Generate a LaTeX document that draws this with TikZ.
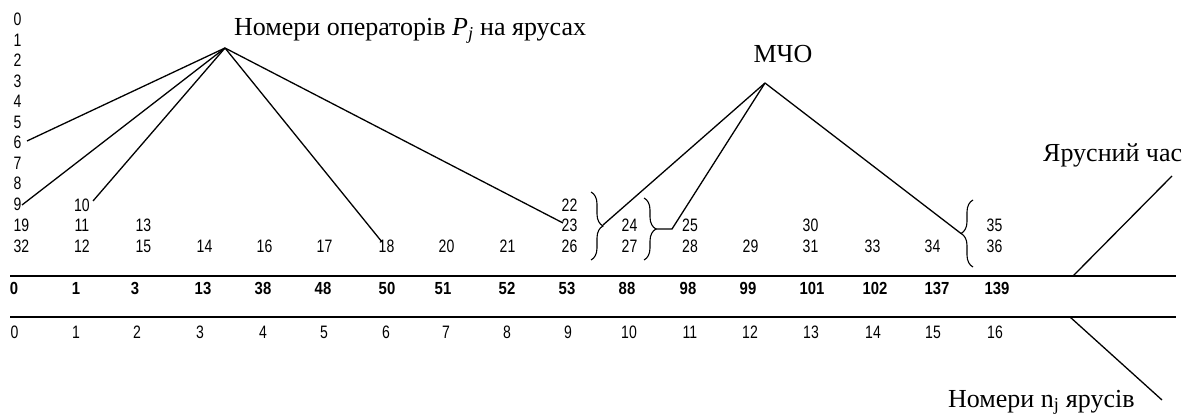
\documentclass[tikz,border=0pt]{standalone}
\usepackage{fontspec}
\setmainfont{Liberation Serif}
\newfontfamily\numfont[FakeStretch=0.78]{Liberation Sans}
\newfontfamily\bnumfont[FakeStretch=0.85]{Liberation Sans}
\usetikzlibrary{decorations.pathreplacing}
\begin{document}
\begin{tikzpicture}[x=1pt,y=-1pt,
  lnum/.style={font=\numfont\fontsize{18}{18}\selectfont, inner sep=0pt, anchor=base},
  bnum/.style={font=\bnumfont\bfseries\fontsize{17.5}{17.5}\selectfont, inner sep=0pt, anchor=base},
  lbl/.style={font=\fontsize{26}{26}\selectfont, inner sep=0pt},
  conn/.style={line width=1.3pt},
  rule/.style={line width=1.2pt},
  brc/.style={decorate, decoration={brace, amplitude=12pt}, line width=1.1pt}]
\useasboundingbox (0,0) rectangle (1196,419);

% labels
\node[lbl, anchor=base west] (lab1) at (234,36) {Номери операторів \textit{P}\textsubscript{\textit{j}} на ярусах};
\node[lbl, anchor=base] (lab2) at (783,63) {МЧО};
\node[lbl, anchor=base west] (lab3) at (1043,162) {Ярусний час};
\node[lbl, anchor=base west] (lab4) at (948,407) {Номери n\textsubscript{j} ярусів};

% column 0
\foreach \k in {0,...,9} \node[lnum] (c\k) at (17.5,{26+20.5*\k}) {\k};
\node[lnum] (c19) at (21.5,232) {19};
\node[lnum] (c32) at (21.5,252.5) {32};

% other operator numbers (baselines)
\foreach \x/\y/\v in {82/211.5/10, 82/232/11, 82/252.5/12,
  143.5/232/13, 143.5/252.5/15, 204.5/252.5/14, 264.5/252.5/16, 324.5/252.5/17, 386.5/252.5/18,
  446.5/252.5/20, 507.5/252.5/21, 569.5/211.5/22, 569.5/232/23, 569.5/252.5/26,
  629.5/232/24, 629.5/252.5/27, 690/232/25, 690/252.5/28, 750.5/252.5/29,
  810.5/232/30, 810.5/252.5/31, 872.5/252.5/33, 932.5/252.5/34, 994.5/232/35, 994.5/252.5/36}
  \node[lnum] (c\v) at (\x,\y) {\v};

% rules
\coordinate (r1a) at (10,276); \coordinate (r1b) at (1176,276);
\coordinate (r2a) at (10,317); \coordinate (r2b) at (1176,317);
\draw[rule] (r1a) -- (r1b);
\draw[rule] (r2a) -- (r2b);

% tier times (bold)
\foreach \x/\v in {14/0,76/1,135/3,203/13,263/38,323/48,387/50,443/51,507/52,567/53,627/88,688/98,748/99,812/101,875/102,937/137,997/139}
  \node[bnum] (b\v) at (\x,295) {\v};

% tier numbers
\foreach \x [count=\i from 0] in {14.5,76,137,200,263,324,386,446,507,568,629,690,750,811,873,933,995}
  \node[lnum] (t\i) at (\x,338) {\i};

% braces
\draw[brc] (591,192) -- (591,260);
\draw[brc] (644,198) -- (644,260);
\draw[brc] (973,267) -- (973,200);
\coordinate (tip1) at (603,225);
\coordinate (tip2) at (656,229);
\coordinate (k2) at (672,229);
\coordinate (tip3) at (961,233.5);

% fan 1
\coordinate (apex1) at (225,48);
\coordinate (e6) at (27,141);
\coordinate (e9) at (22,205);
\coordinate (e10) at (93,201);
\coordinate (e18) at (382,242);
\coordinate (e23) at (563,223);
\draw[conn] (apex1) -- (e6);
\draw[conn] (apex1) -- (e9);
\draw[conn] (apex1) -- (e10);
\draw[conn] (apex1) -- (e18);
\draw[conn] (apex1) -- (e23);

% fan 2
\coordinate (apex2) at (765,83);
\draw[conn] (apex2) -- (tip1);
\draw[conn] (apex2) -- (k2) -- (tip2);
\draw[conn] (apex2) -- (tip3);

% label pointers
\coordinate (h1) at (1073,276); \coordinate (h2) at (1172,176);
\coordinate (g1) at (1070,317); \coordinate (g2) at (1162,400);
\draw[conn] (h1) -- (h2);
\draw[conn] (g1) -- (g2);
\end{tikzpicture}
\end{document}
